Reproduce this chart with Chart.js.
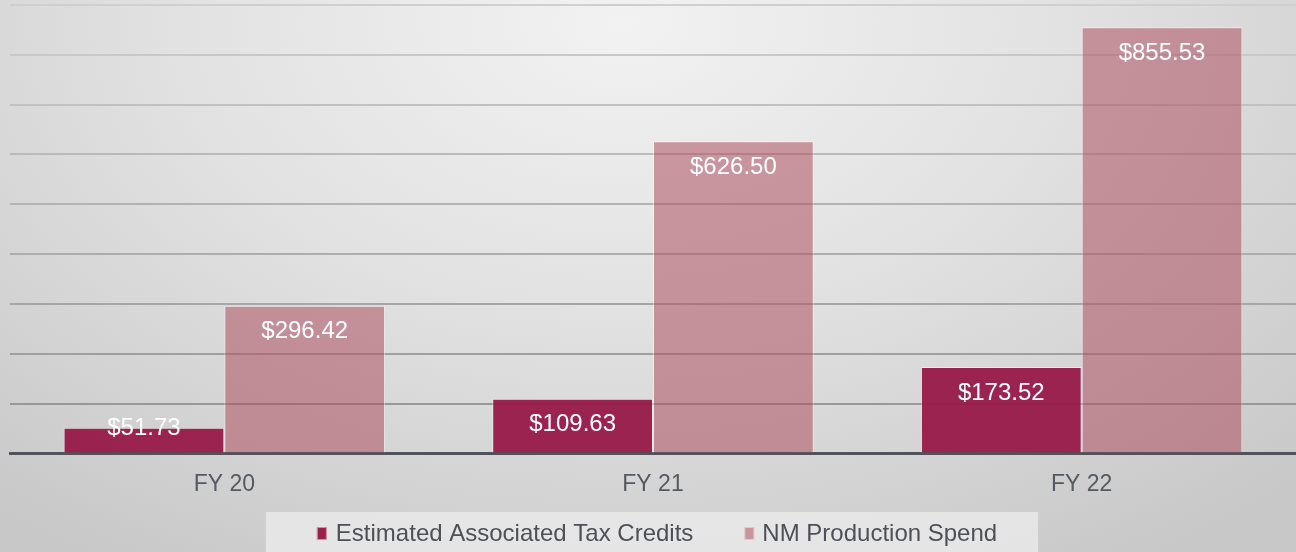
<!DOCTYPE html>
<html>
<head>
<meta charset="utf-8">
<script src="https://cdn.jsdelivr.net/npm/chart.js@4.4.1/dist/chart.umd.min.js"></script>
<style>
  html, body { margin: 0; padding: 0; }
  #wrap {
    width: 1296px; height: 552px; position: relative;
    background: radial-gradient(ellipse 75% 115% at 48% 4%, #f2f2f2 0%, #e2e2e2 45%, #c8c8c8 100%);
  }
</style>
</head>
<body>
<div id="wrap"><canvas id="myChart" width="1296" height="552"></canvas></div>
<script>
const kategorije = ["FY 20", "FY 21", "FY 22"];
const porezniKrediti = [51.73, 109.63, 173.52];
const potrosnja = [296.42, 626.50, 855.53];
const nazivi = ["Estimated Associated Tax Credits", "NM Production Spend"];
const boje = ['rgba(150,24,70,0.94)', 'rgba(173,80,96,0.55)'];
const bojeLegende = ['#9a2149', '#c9959c'];

const font = '"Liberation Sans", Arial, sans-serif';

// white value labels inside the bars
const oznakePlugin = {
    id: 'oznake',
    afterDatasetsDraw(chart) {
        const ctx = chart.ctx;
        const dno = chart.scales.y.getPixelForValue(0);
        ctx.save();
        ctx.font = '24px ' + font;
        ctx.fillStyle = '#ffffff';
        ctx.textAlign = 'center';
        ctx.textBaseline = 'middle';
        chart.data.datasets.forEach((ds, i) => {
            chart.getDatasetMeta(i).data.forEach((bar, j) => {
                const y = Math.min(bar.y + 26, dno - 25);
                ctx.fillText('$' + ds.data[j].toFixed(2), bar.x, y);
            });
        });
        ctx.restore();
    }
};

// legend in a light box at the bottom
const legendaPlugin = {
    id: 'legenda',
    afterDraw(chart) {
        const ctx = chart.ctx;
        ctx.save();
        ctx.font = '24px ' + font;
        const sirine = chart.data.datasets.map(ds => ctx.measureText(ds.label).width);
        const ukupno = 10 + 9 + sirine[0] + 51 + 10 + 8 + sirine[1];
        let x = 657 - ukupno / 2;
        const yc = 533;
        ctx.fillStyle = 'rgba(236,236,236,0.75)';
        ctx.fillRect(x - 51, 512, ukupno + 92, 40);
        ctx.textBaseline = 'middle';
        chart.data.datasets.forEach((ds, i) => {
            ctx.fillStyle = bojeLegende[i];
            ctx.fillRect(x, yc - 6, 10, 13);
            ctx.strokeStyle = 'rgba(255,255,255,0.5)';
            ctx.lineWidth = 1;
            ctx.strokeRect(x + 0.5, yc - 5.5, 9, 12);
            x += 10 + (i === 0 ? 9 : 8);
            ctx.fillStyle = '#4d5056';
            ctx.fillText(ds.label, x, yc + 1);
            x += sirine[i] + 51;
        });
        ctx.restore();
    }
};

let myChart = new Chart(document.getElementById('myChart'), {
    type: 'bar',
    data: {
        labels: kategorije,
        datasets: [{
            label: nazivi[0],
            data: porezniKrediti,
            backgroundColor: boje[0],
            borderColor: 'rgba(255,255,255,0.45)',
            borderWidth: 1
        }, {
            label: nazivi[1],
            data: potrosnja,
            backgroundColor: boje[1],
            borderColor: 'rgba(255,255,255,0.45)',
            borderWidth: 1
        }]
    },
    options: {
        responsive: false,
        animation: false,
        layout: { padding: { left: 10, top: 5, right: 0, bottom: 45 } },
        datasets: { bar: { categoryPercentage: 0.75, barPercentage: 1.0 } },
        scales: {
            x: {
                grid: { display: false },
                border: { display: true, color: '#50545a', width: 3 },
                ticks: {
                    color: '#555a60',
                    font: { size: 23, family: font },
                    padding: 9
                }
            },
            y: {
                min: 0,
                max: 900,
                ticks: { display: false, stepSize: 100 },
                border: { display: false },
                grid: {
                    lineWidth: 2,
                    drawTicks: false,
                    color: (c) => {
                        const v = c.tick ? c.tick.value : 0;
                        const g = Math.round(145 + (v / 900) * 62);
                        return `rgb(${g},${g},${g})`;
                    }
                }
            }
        },
        plugins: {
            legend: { display: false },
            tooltip: { enabled: false }
        }
    },
    plugins: [oznakePlugin, legendaPlugin]
});
</script>
</body>
</html>
